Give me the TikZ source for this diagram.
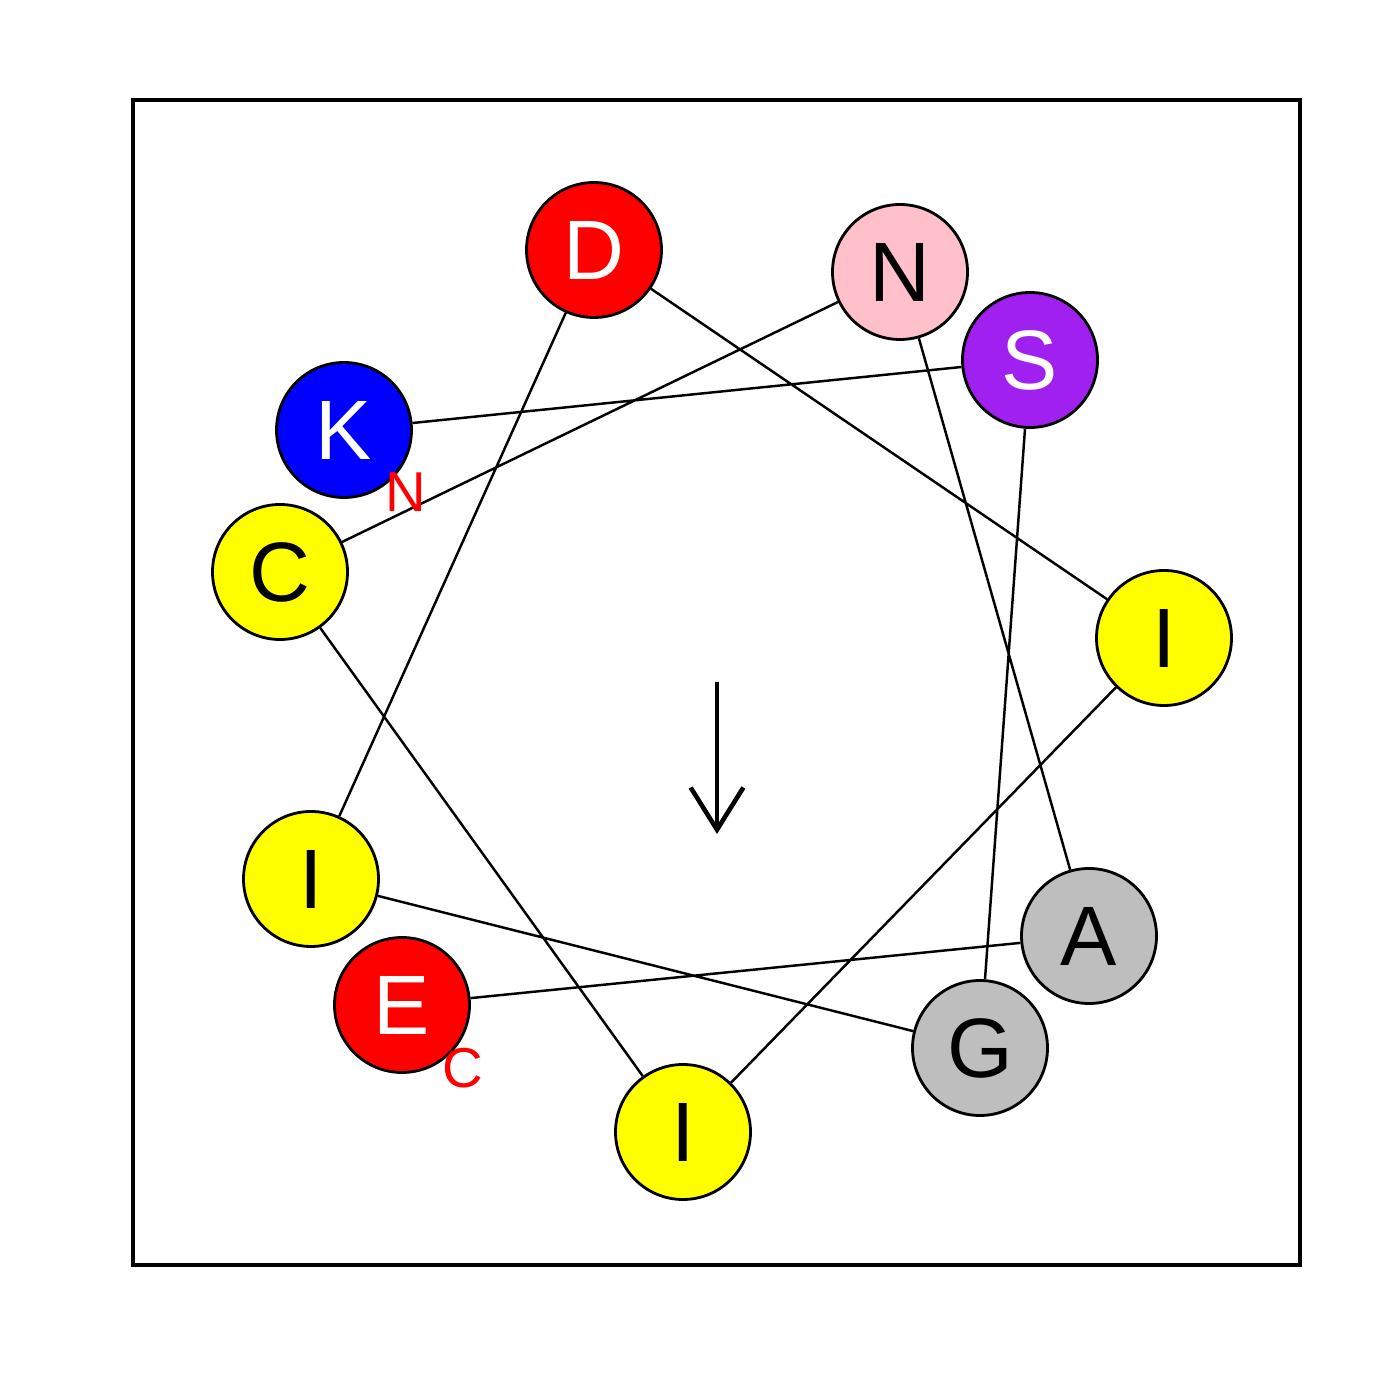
\documentclass[tikz,border=0pt]{standalone}
\usepackage{fontspec}
\setmainfont{Liberation Sans}
\usetikzlibrary{arrows.meta}
\definecolor{hydroyellow}{RGB}{255,255,0}

\begin{document}
\begin{tikzpicture}[x=1cm, y=1cm,
  res/.style={draw, circle, line width=0.8pt, minimum size=1.35cm, inner sep=0pt, font=\fontsize{24}{24}\selectfont},
  hydro/.style={res, fill=hydroyellow},
  acid/.style={res, fill=red, text=white},
  small/.style={res, fill={rgb,255:red,190;green,190;blue,190}},
  link/.style={line width=0.7pt},
  term/.style={text=red, font=\fontsize{16}{16}\selectfont}]
  \useasboundingbox (0,0) rectangle (14,14);
  \draw[line width=0.9pt] (1.33,1.35) rectangle (13.00,13.00);
  % residues around the wheel
  \node[res, fill=blue, text=white] (k) at (3.44,9.70) {K};
  \node[res, fill={rgb,255:red,160;green,32;blue,240}, text=white] (s) at (10.30,10.40) {S};
  \node[small] (g) at (9.80,3.52) {G};
  \node[hydro] (i3) at (3.11,5.21) {I};
  \node[acid] (d) at (5.94,11.50) {D};
  \node[hydro] (i1) at (11.64,7.62) {I};
  \node[hydro] (i2) at (6.83,2.68) {I};
  \node[hydro] (c) at (2.80,8.28) {C};
  \node[res, fill={rgb,255:red,255;green,192;blue,203}] (n) at (9.00,11.28) {N};
  \node[small] (a) at (10.89,4.64) {A};
  \node[acid] (e) at (4.02,3.95) {E};
  \draw[link] (k) -- (s) -- (g) -- (i3) -- (d) -- (i1) -- (i2) -- (c) -- (n) -- (a) -- (e);
  % ends
  \node[term] (nterm) at (4.06,9.08) {N};
  \node[term] (cterm) at (4.63,3.32) {C};
  % moment
  \coordinate (m0) at (7.17,7.18);
  \coordinate (m1) at (7.17,5.66);
  \draw[line width=1.3pt, -{Straight Barb[length=12pt,width=15pt]}] (m0) -- (m1);
\end{tikzpicture}
\end{document}
